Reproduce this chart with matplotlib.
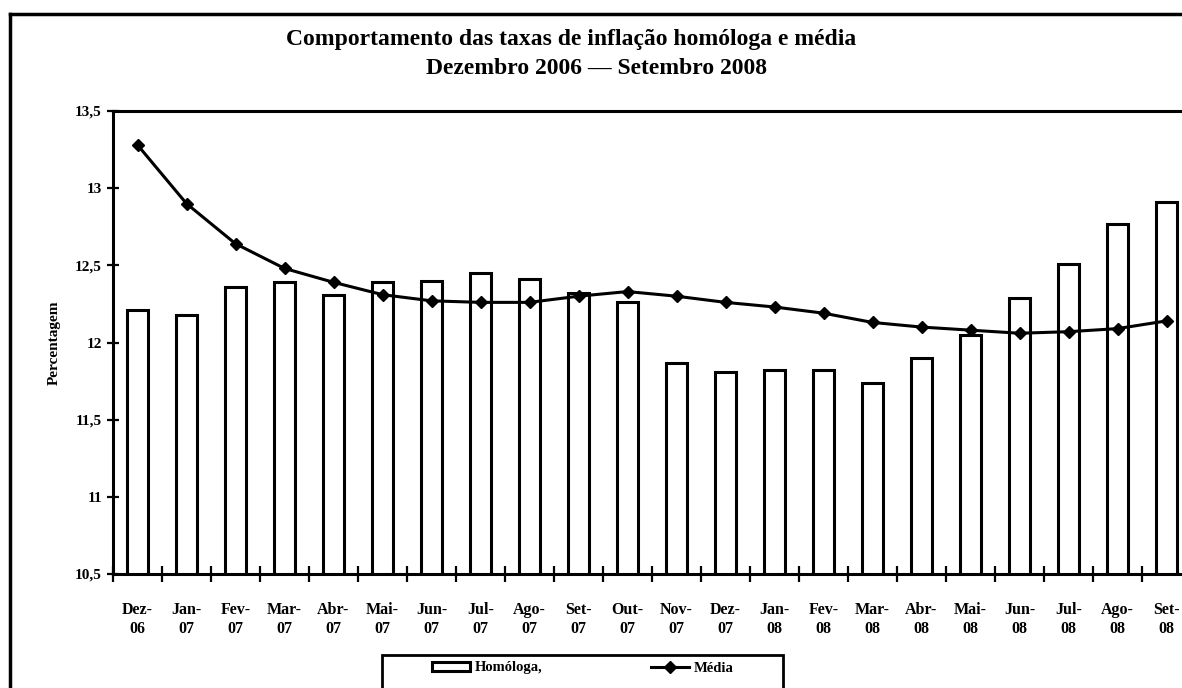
import numpy as np
import matplotlib
matplotlib.use("Agg")
import matplotlib.pyplot as plt
from matplotlib.patches import Patch, Rectangle
from matplotlib.lines import Line2D

# ---- data ----
categories = ["Dez-\n06", "Jan-\n07", "Fev-\n07", "Mar-\n07", "Abr-\n07", "Mai-\n07",
              "Jun-\n07", "Jul-\n07", "Ago-\n07", "Set-\n07", "Out-\n07", "Nov-\n07",
              "Dez-\n07", "Jan-\n08", "Fev-\n08", "Mar-\n08", "Abr-\n08", "Mai-\n08",
              "Jun-\n08", "Jul-\n08", "Ago-\n08", "Set-\n08"]
homologa = [12.21, 12.18, 12.36, 12.39, 12.31, 12.39, 12.40, 12.45, 12.41, 12.32, 12.26,
            11.87, 11.81, 11.82, 11.82, 11.74, 11.90, 12.05, 12.29, 12.51, 12.77, 12.91]
media = [13.28, 12.90, 12.64, 12.48, 12.39, 12.31, 12.27, 12.26, 12.26, 12.30, 12.33,
         12.30, 12.26, 12.23, 12.19, 12.13, 12.10, 12.08, 12.06, 12.07, 12.09, 12.14]
yticks = [10.5, 11, 11.5, 12, 12.5, 13, 13.5]
ytick_labels = ["10,5", "11", "11,5", "12", "12,5", "13", "13,5"]
title1 = "Comportamento das taxas de inflação homóloga e média"
title2 = "Dezembro 2006 — Setembro 2008"
ylabel = "Percentagem"
legend_labels = ["Homóloga,", "Média"]

plt.rcParams["font.family"] = ["Liberation Serif", "DejaVu Serif"]
plt.rcParams["font.weight"] = "bold"

W, H = 1182, 688
fig = plt.figure(figsize=(W / 100, H / 100), dpi=100)


def fx(px):
    return px / W


def fy(py):
    return 1 - py / H


ax = fig.add_axes([fx(113), fy(574), fx(1191) - fx(113), fy(111) - fy(574)])
x = np.arange(len(categories))
ax.bar(x, homologa, width=0.42, color="white", edgecolor="black", linewidth=2.2, zorder=2)
ax.plot(x, media, color="black", linewidth=2.2, marker="D", markersize=6.5, zorder=3)

ax.set_xlim(-0.5, len(categories) - 0.5)
ax.set_ylim(10.5, 13.5)
ax.set_yticks(yticks)
ax.set_yticklabels(ytick_labels, fontsize=11, fontweight="bold")
ax.set_xticks(x)
ax.set_xticklabels(categories, fontsize=11.5, fontweight="bold", linespacing=1.25)
ax.set_xticks(np.arange(len(categories) + 1) - 0.5, minor=True)
ax.tick_params(axis="x", which="major", length=0, pad=20)
ax.tick_params(axis="x", which="minor", direction="inout", length=12, width=1.6)
ax.tick_params(axis="y", direction="inout", length=8, width=1.6, pad=4)
for s in ["left", "bottom", "top", "right"]:
    ax.spines[s].set_linewidth(2.2)
ax.set_ylabel(ylabel, fontsize=11, fontweight="bold", labelpad=10)

fig.text(fx(571), fy(40), title1, ha="center", va="center", fontsize=17, fontweight="bold")
fig.text(fx(597), fy(69), title2, ha="center", va="center", fontsize=17, fontweight="bold")

# outer frame
fig.add_artist(Line2D([fx(10), fx(10)], [fy(14), fy(700)], color="black", linewidth=2.5))
fig.add_artist(Line2D([fx(10), fx(1200)], [fy(14), fy(14)], color="black", linewidth=2.5))

# legend
fig.add_artist(Rectangle((fx(382), fy(700)), fx(783) - fx(382), fy(655) - fy(700),
                         facecolor="white", edgecolor="black", linewidth=2.0))
handles = [Patch(facecolor="white", edgecolor="black", linewidth=2.2),
           Line2D([0], [0], color="black", linewidth=2.2, marker="D", markersize=6.5)]
leg = fig.legend(handles, legend_labels, loc="center left", bbox_to_anchor=(fx(432), fy(668)),
                 ncol=2, frameon=False, fontsize=10.5, handlelength=2.6, handleheight=0.6,
                 handletextpad=0.3, columnspacing=7.5, borderpad=0, borderaxespad=0)
for t in leg.get_texts():
    t.set_fontweight("bold")

fig.savefig("out.png", dpi=100)
